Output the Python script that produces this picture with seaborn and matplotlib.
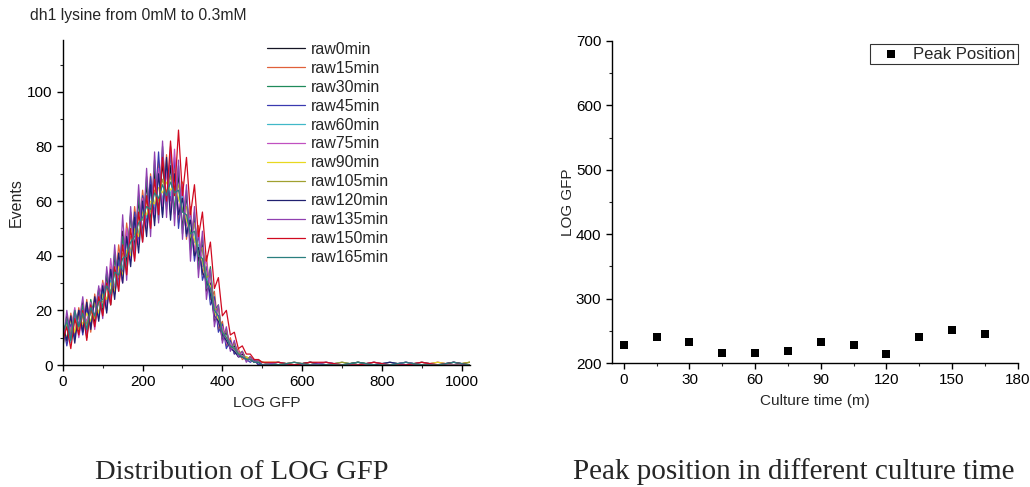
import numpy as np
import pandas as pd
import matplotlib
matplotlib.use("Agg")
import matplotlib.pyplot as plt
from matplotlib.ticker import MultipleLocator
import seaborn as sns

# ---------------- data ----------------
x_main = list(range(0, 501, 10))
x_tail = [540, 580, 620, 660, 700, 740, 780, 820, 860, 900, 940, 980, 1020]
log_gfp = x_main + x_tail

series_names = ["raw0min", "raw15min", "raw30min", "raw45min", "raw60min", "raw75min",
                "raw90min", "raw105min", "raw120min", "raw135min", "raw150min", "raw165min"]

raw0min = [6,18,9,20,12,23,10,22,15,28, 19,33,22,40,30,49,37,55,43,60,
           48,66,52,71,56,74,58,73,55,70, 50,62,44,54,38,44,27,30,16,18,
           9,12,6,7,3,4,2,3,1,1,0,
           1,0,1,0,0,1,0,0,1,0,0,0,1]
raw15min = [14,8,19,11,21,13,24,12,26,17, 31,22,36,27,44,33,52,40,58,46,
            64,50,70,54,75,57,77,55,74,52, 67,46,58,40,51,33,40,24,27,13,
            16,7,10,4,6,2,3,2,2,0,1,
            0,1,0,0,1,0,0,1,0,0,1,0,0]
raw30min = [9,17,11,19,14,22,12,24,17,27, 21,34,24,41,29,47,35,56,41,62,
            46,69,50,75,53,80,57,78,56,73, 48,64,42,56,35,47,28,36,20,22,
            10,13,6,8,4,5,2,3,1,2,0,
            1,0,0,1,0,1,0,0,0,1,0,0,0]
raw45min = [16,7,15,10,20,11,21,14,24,18, 29,20,35,26,38,34,48,38,56,45,
            62,51,69,54,78,55,72,60,76,50, 64,47,55,38,48,31,36,22,25,12,
            15,6,9,4,5,3,2,1,2,0,1,
            0,0,1,0,0,0,1,0,1,0,0,1,0]
raw60min = [11,15,8,17,13,20,15,19,22,18, 27,23,31,29,39,35,45,41,52,48,
            58,54,63,58,69,60,71,62,68,60, 62,52,54,45,44,37,33,27,21,17,
            13,10,8,6,4,3,3,2,1,1,0,
            1,0,0,0,1,0,0,1,0,0,0,1,0]
raw75min = [8,16,13,21,10,19,16,23,13,25, 30,21,39,26,36,30,50,39,51,44,
            61,50,59,55,72,58,71,56,79,55, 66,51,56,42,49,36,38,26,23,15,
            14,8,8,5,5,3,2,2,1,1,0,
            0,1,0,1,0,0,0,0,1,0,1,0,0]
raw90min = [13,10,17,12,18,15,19,16,23,19, 26,24,30,27,36,33,42,40,50,47,
            56,55,60,59,65,63,67,64,66,61, 57,53,49,46,41,38,31,29,19,17,
            12,10,7,6,4,3,3,2,1,1,1,
            1,0,1,0,0,1,0,0,0,0,1,0,1]
raw105min = [10,15,12,17,13,18,15,20,17,24, 23,29,27,34,32,41,40,47,48,54,
             53,60,56,64,60,68,63,69,62,66, 56,58,47,52,41,43,32,33,20,21,
             11,13,6,8,4,5,2,3,1,2,1,
             0,1,0,0,1,0,1,0,0,1,0,0,1]
raw120min = [15,9,18,8,20,12,23,13,25,16, 29,19,35,24,41,30,47,36,54,41,
             60,47,66,51,70,54,76,53,70,55, 61,48,53,40,43,34,31,26,18,16,
             11,9,6,5,3,3,2,2,1,1,0,
             0,0,1,0,0,1,0,1,0,0,0,1,0]
raw135min = [7,20,10,18,15,25,11,22,18,29, 17,36,23,44,27,55,31,58,39,66,
             45,72,47,78,52,82,54,80,51,75, 46,66,38,58,32,49,24,35,14,22,
             8,14,5,9,3,5,1,3,1,2,0,
             1,0,0,1,0,0,1,0,0,1,0,0,0]
raw150min = [9,14,6,17,11,20,9,22,14,25, 18,30,22,36,27,44,33,50,38,56,
             45,62,50,68,55,76,60,82,62,86, 62,76,55,66,47,56,38,45,28,32,
             18,20,11,12,6,7,4,4,2,2,1,
             1,0,1,1,0,0,1,0,0,1,0,1,0]
raw165min = [12,16,9,20,14,19,13,21,18,23, 24,29,26,34,33,39,40,45,47,52,
             54,58,57,63,61,66,62,67,63,64, 56,55,48,49,40,39,31,28,20,18,
             12,10,7,6,4,3,2,2,1,1,0,
             0,1,0,0,0,1,0,0,1,0,0,1,0]

events = [raw0min, raw15min, raw30min, raw45min, raw60min, raw75min,
          raw90min, raw105min, raw120min, raw135min, raw150min, raw165min]

culture_time = [0, 15, 30, 45, 60, 75, 90, 105, 120, 135, 150, 165]
peak_position = [228, 241, 232, 216, 215, 218, 232, 228, 214, 240, 252, 245]

colors = ["#151525", "#e0603a", "#1f8a5a", "#3a3ab0", "#40b8c8", "#c050c0",
          "#e8d820", "#a0a030", "#202070", "#9040b0", "#d00a20", "#2a7f7f"]

# ---------------- figure ----------------
sns.set_style("ticks")
plt.rcParams["font.family"] = ["Liberation Sans", "DejaVu Sans"]

fig = plt.figure(figsize=(10.30, 4.87), dpi=100)
ax1 = fig.add_axes([0.061, 0.2505, 0.395, 0.6675])
ax2 = fig.add_axes([0.594, 0.2546, 0.394, 0.6614])

rows = []
for name, ys in zip(series_names, events):
    for xv, yv in zip(log_gfp, ys):
        rows.append((name, xv, yv))
df = pd.DataFrame(rows, columns=["series", "LOG GFP", "Events"])

sns.lineplot(data=df, x="LOG GFP", y="Events", hue="series", hue_order=series_names,
             palette=colors, linewidth=0.9, sort=False, estimator=None, ax=ax1)

ax1.set_xlim(0, 1020)
ax1.set_ylim(0, 119)
ax1.xaxis.set_major_locator(MultipleLocator(200))
ax1.xaxis.set_minor_locator(MultipleLocator(100))
ax1.yaxis.set_major_locator(MultipleLocator(20))
ax1.yaxis.set_minor_locator(MultipleLocator(10))
ax1.set_xlabel("LOG GFP", fontsize=11, labelpad=5)
ax1.set_ylabel("Events", fontsize=11.5, labelpad=2)
handles, labels = ax1.get_legend_handles_labels()
ax1.legend(handles, labels, loc="upper left", bbox_to_anchor=(0.497, 1.0), frameon=False,
           fontsize=11.5, handlelength=2.4, handletextpad=0.4, labelspacing=0.25,
           borderaxespad=0.0, borderpad=0.1)
fig.text(0.029, 0.969, "dh1 lysine from 0mM to 0.3mM", fontsize=11.3, ha="left", va="center")

sns.scatterplot(x=culture_time, y=peak_position, marker="s", color="black", s=30,
                linewidth=0, label="Peak Position", ax=ax2)
ax2.set_xlim(-5.5, 180)
ax2.set_ylim(200, 700)
ax2.xaxis.set_major_locator(MultipleLocator(30))
ax2.xaxis.set_minor_locator(MultipleLocator(15))
ax2.yaxis.set_major_locator(MultipleLocator(100))
ax2.yaxis.set_minor_locator(MultipleLocator(50))
ax2.set_xlabel("Culture time (m)", fontsize=11, labelpad=5)
ax2.set_ylabel("LOG GFP", fontsize=11, labelpad=1)
leg2 = ax2.legend(loc="upper right", bbox_to_anchor=(1.0, 0.99), fontsize=12, frameon=True,
                  fancybox=False, borderaxespad=0.0, borderpad=0.15, handletextpad=0.2,
                  handlelength=2.2)
leg2.get_frame().set_edgecolor("black")
leg2.get_frame().set_linewidth(0.8)

for ax in (ax1, ax2):
    sns.despine(ax=ax)
    ax.tick_params(axis="both", which="major", direction="out", length=4, width=1,
                   labelsize=11, colors="black")
    ax.tick_params(axis="both", which="minor", direction="out", length=2.5, width=0.8)
    for sp in ("left", "bottom"):
        ax.spines[sp].set_color("black")
        ax.spines[sp].set_linewidth(1.0)

fig.text(0.235, 0.0164, "Distribution of LOG GFP", fontsize=20.5, ha="center", va="baseline",
         family=["Liberation Serif", "DejaVu Serif"])
fig.text(0.771, 0.0164, "Peak position in different culture time", fontsize=21, ha="center",
         va="baseline", family=["Liberation Serif", "DejaVu Serif"])

fig.savefig("out.png", dpi=100)
